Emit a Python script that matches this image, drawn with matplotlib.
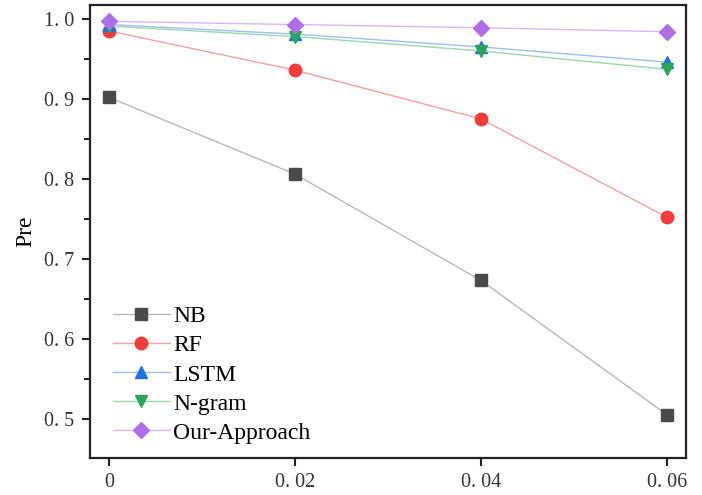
import numpy as np
import matplotlib
matplotlib.use('Agg')
import matplotlib.pyplot as plt

x_vals = [0, 0.02, 0.04, 0.06]
x_labels = ['0', '0. 02', '0. 04', '0. 06']
y_ticks = [0.5, 0.6, 0.7, 0.8, 0.9, 1.0]
y_labels = ['0. 5', '0. 6', '0. 7', '0. 8', '0. 9', '1. 0']

nb = [0.902, 0.806, 0.673, 0.505]
rf = [0.985, 0.936, 0.875, 0.752]
lstm = [0.993, 0.981, 0.965, 0.946]
ngram = [0.991, 0.978, 0.960, 0.937]
ours = [0.997, 0.993, 0.989, 0.984]

plt.rcParams['font.family'] = ['Liberation Serif', 'DejaVu Serif']

fig = plt.figure(figsize=(7.02, 4.95), dpi=100)
ax = fig.add_axes([0.128, 0.075, 0.849, 0.915])

series = [
    ('NB', nb, 's', '#4a4a4a', '#b8b8b8', 8),
    ('RF', rf, 'o', '#f23b3b', '#f7a0a0', 9),
    ('LSTM', lstm, '^', '#1e6fe6', '#9dbff2', 9),
    ('N-gram', ngram, 'v', '#2aa55a', '#9ad8b0', 9),
    ('Our-Approach', ours, 'D', '#b06ee6', '#d8b8f2', 8),
]
for name, vals, mk, mc, lc, ms in series:
    ax.plot(x_vals, vals, color=lc, linewidth=1.0, marker=mk, markersize=ms,
            markerfacecolor=mc, markeredgecolor=mc, label=name)

ax.set_xlim(-0.00204, 0.06204)
ax.set_ylim(0.451, 1.0175)
ax.set_xticks(x_vals)
ax.set_xticklabels(x_labels)
ax.set_yticks(y_ticks)
ax.set_yticklabels(y_labels)
ax.set_yticks(np.arange(0.55, 1.0, 0.1), minor=True)
ax.tick_params(axis='both', which='major', direction='out', length=6, width=1.5,
               labelsize=14.5, colors='#222222', labelcolor='#333333', pad=5)
ax.tick_params(axis='y', which='minor', direction='out', length=4, width=1.5, colors='#222222')
for spine in ax.spines.values():
    spine.set_linewidth(1.6)
    spine.set_color('#222222')
ax.set_ylabel('Pre', fontsize=17, labelpad=6)

ax.legend(loc='lower left', bbox_to_anchor=(0.015, 0.0), frameon=False, fontsize=17,
          handlelength=2.4, labelspacing=0.32, handletextpad=0.15, borderaxespad=0.2)

fig.savefig('out.png', dpi=100)
